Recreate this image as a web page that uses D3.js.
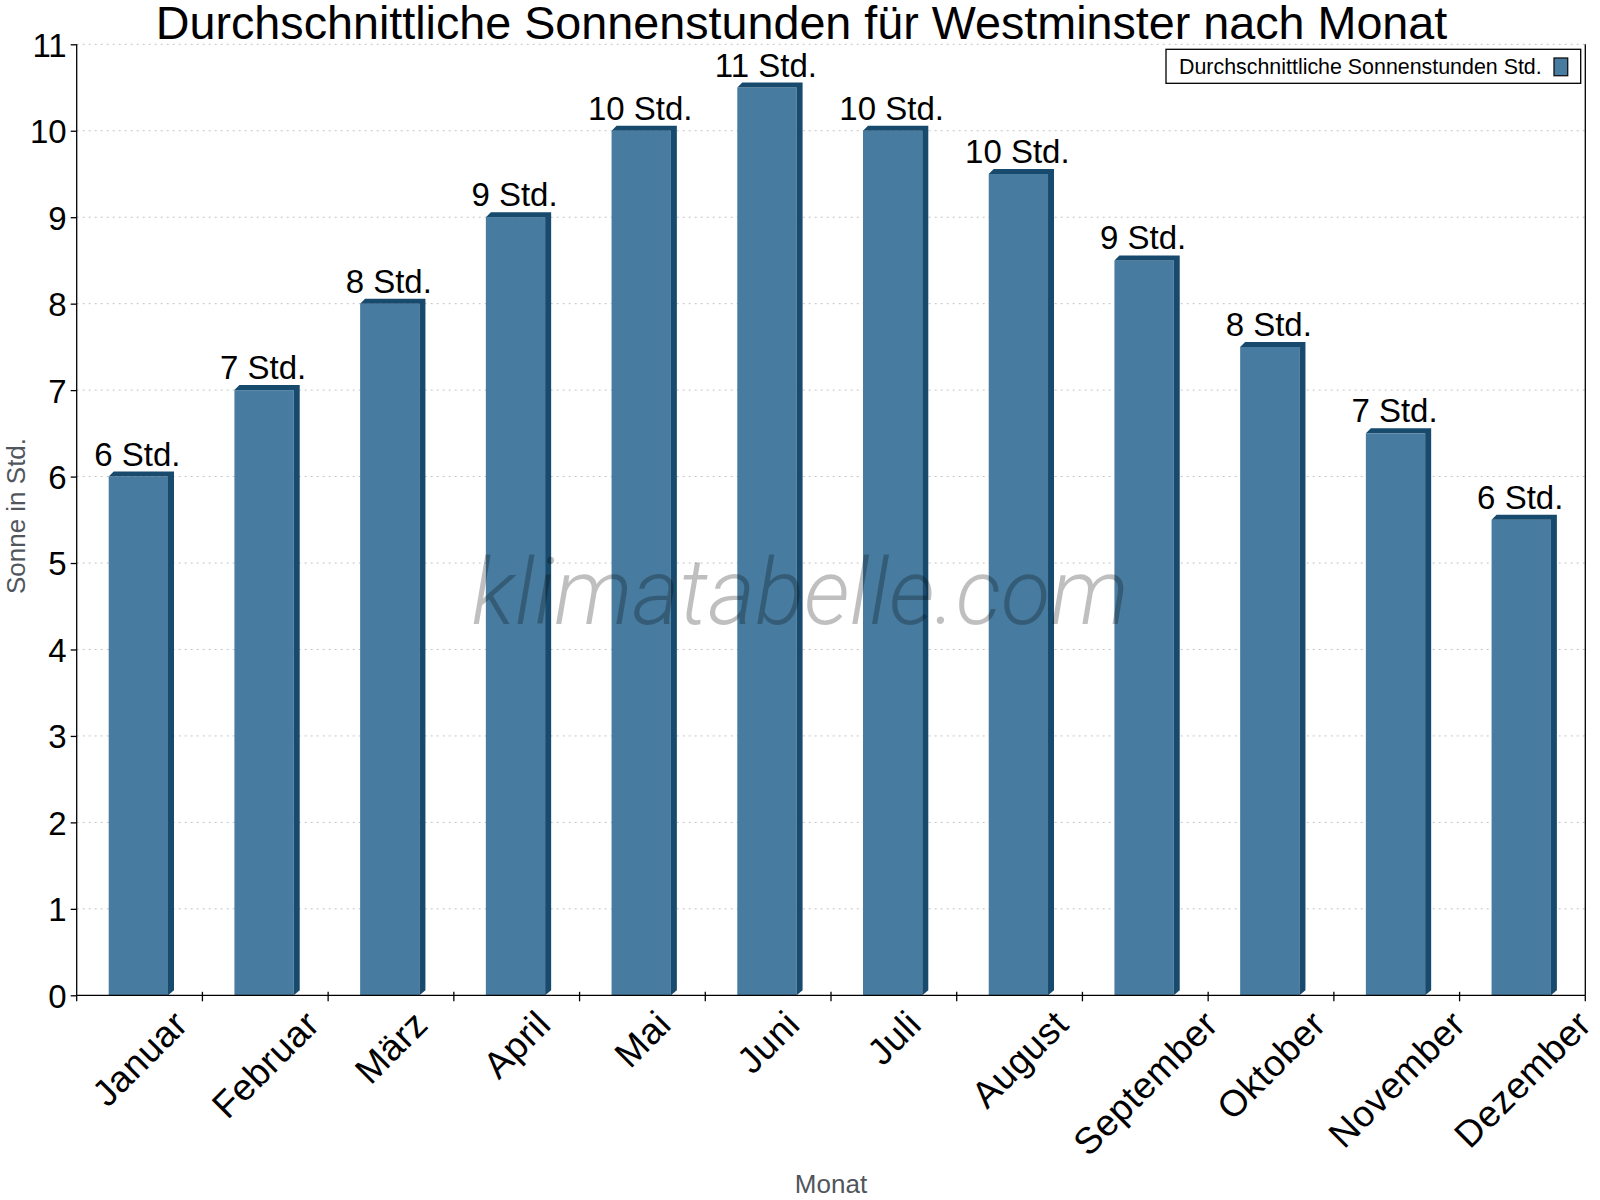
<!DOCTYPE html>
<html>
<head>
<meta charset="utf-8">
<script src="https://cdn.jsdelivr.net/npm/d3@7"></script>
<style>
  html, body { margin: 0; padding: 0; background: #fff; }
  svg { display: block; font-family: "Liberation Sans", Arial, sans-serif; }
</style>
</head>
<body>
<svg id="chart" width="1600" height="1200"></svg>
<script>
const months = ["Januar", "Februar", "März", "April", "Mai", "Juni", "Juli", "August", "September", "Oktober", "November", "Dezember"];
const sunHours = [6, 7, 8, 9, 10, 10.5, 10, 9.5, 8.5, 7.5, 6.5, 5.5];
const yTicks = [0, 1, 2, 3, 4, 5, 6, 7, 8, 9, 10, 11];
const titleText = "Durchschnittliche Sonnenstunden für Westminster nach Monat";
const seriesName = "Durchschnittliche Sonnenstunden Std.";
const yTitle = "Sonne in Std.";
const xTitle = "Monat";
const unit = "Std.";

(function () {
const svg = d3.select("#chart");
const pL = 76.7, pR = 1585.3, pT = 44.3, pB = 995.3;
const frontColor = "#477b9f", darkColor = "#174a6d";

const x = d3.scaleBand().domain(months).range([pL, pR]).padding(0);
const y = d3.scaleLinear().domain([0, 11]).range([pB, pT]);

// grid
svg.append("g").selectAll("line").data(yTicks.filter(d => d > 0)).join("line")
  .attr("x1", pL).attr("x2", pR)
  .attr("y1", d => y(d)).attr("y2", d => y(d))
  .attr("stroke", "#c4c4c4").attr("stroke-width", 1).attr("stroke-dasharray", "2,4");

// bars
const bw = 59.3, dx = 6, dy = 5, off = 32;
const bars = svg.append("g").selectAll("g").data(months.map((m, i) => ({m, v: sunHours[i]}))).join("g");
bars.append("rect")
  .attr("x", d => x(d.m) + off).attr("width", bw)
  .attr("y", d => y(d.v)).attr("height", d => y(0) - y(d.v))
  .attr("fill", frontColor);
bars.append("path").attr("fill", darkColor).attr("d", d => {
  const x0 = x(d.m) + off, x1 = x0 + bw, yv = y(d.v), yb = y(0);
  return `M${x0},${yv}L${x0 + dy},${yv - dy}L${x1 + dx},${yv - dy}L${x1},${yv}Z` +
         `M${x1},${yv}L${x1 + dx},${yv - dy}L${x1 + dx},${yb - dy}L${x1},${yb}Z`;
});
bars.append("text")
  .attr("x", d => x(d.m) + off + bw / 2 - 1)
  .attr("y", d => y(d.v) - 11)
  .attr("text-anchor", "middle").attr("font-size", 33).attr("fill", "#000")
  .text(d => Math.round(d.v) + " " + unit);

// y axis
const yAxis = svg.append("g").attr("transform", `translate(${pL},0)`)
  .call(d3.axisLeft(y).tickValues(yTicks).tickSize(6).tickPadding(4).tickFormat(d3.format("d")));
yAxis.select(".domain").attr("stroke", "#000").attr("stroke-width", 1.3).attr("d", `M0,${pT}V${pB}`);
yAxis.selectAll(".tick line").attr("stroke", "#000").attr("stroke-width", 1.3);
yAxis.selectAll(".tick text").attr("font-size", 33).attr("fill", "#000")
  .attr("font-family", "'Liberation Sans', Arial, sans-serif").attr("dy", "0.36em");

// right border
svg.append("line").attr("x1", pR).attr("x2", pR).attr("y1", pT).attr("y2", pB)
  .attr("stroke", "#000").attr("stroke-width", 1.3);

// x axis
svg.append("line").attr("x1", pL).attr("x2", pR).attr("y1", pB).attr("y2", pB)
  .attr("stroke", "#000").attr("stroke-width", 1.3);
const bounds = months.map(m => x(m)).concat([pR]);
svg.append("g").selectAll("line").data(bounds).join("line")
  .attr("x1", d => d).attr("x2", d => d)
  .attr("y1", (d, i) => (i === 0 || i === bounds.length - 1) ? pB : pB - 3.5)
  .attr("y2", pB + 6)
  .attr("stroke", "#000").attr("stroke-width", 1.3);
const xl = svg.append("g").selectAll("text").data(months).join("text")
  .attr("text-anchor", "middle").attr("dy", "0.35em").attr("font-size", 37)
  .attr("letter-spacing", 0.5).attr("fill", "#000")
  .text(d => d);
xl.each(function (d) {
  const L = this.getComputedTextLength();
  const cx = x(d) + x.bandwidth() / 2;
  const cy = pB + 22 + 0.7071 * L / 2;
  d3.select(this).attr("transform", `translate(${cx},${cy}) rotate(-45)`);
});

// axis titles
svg.append("text").attr("transform", `translate(25,516) rotate(-90)`)
  .attr("text-anchor", "middle").attr("font-size", 26).attr("fill", "#50565c").text(yTitle);
svg.append("text").attr("x", 831).attr("y", 1193)
  .attr("text-anchor", "middle").attr("font-size", 26).attr("fill", "#50565c").text(xTitle);

// title
svg.append("text").attr("x", 801.5).attr("y", 38.5)
  .attr("text-anchor", "middle").attr("font-size", 46.7).attr("fill", "#000").text(titleText);

// legend
svg.append("rect").attr("x", 1166).attr("y", 49.3).attr("width", 414.7).attr("height", 34)
  .attr("fill", "#fff").attr("stroke", "#000").attr("stroke-width", 1.3);
svg.append("text").attr("x", 1179).attr("y", 74.3).attr("font-size", 21.4).attr("fill", "#000").text(seriesName);
svg.append("rect").attr("x", 1554).attr("y", 58).attr("width", 13.7).attr("height", 17.7)
  .attr("fill", frontColor).attr("stroke", "#111").attr("stroke-width", 1.3);

// watermark
svg.append("text").attr("x", 800).attr("y", 624)
  .attr("text-anchor", "middle").attr("font-family", "Roboto, sans-serif")
  .attr("font-weight", 300).attr("font-style", "italic").attr("font-size", 92)
  .attr("textLength", 657).attr("lengthAdjust", "spacingAndGlyphs")
  .attr("fill", "#000").attr("fill-opacity", 0.25).text("klimatabelle.com");
})();
</script>
</body>
</html>
